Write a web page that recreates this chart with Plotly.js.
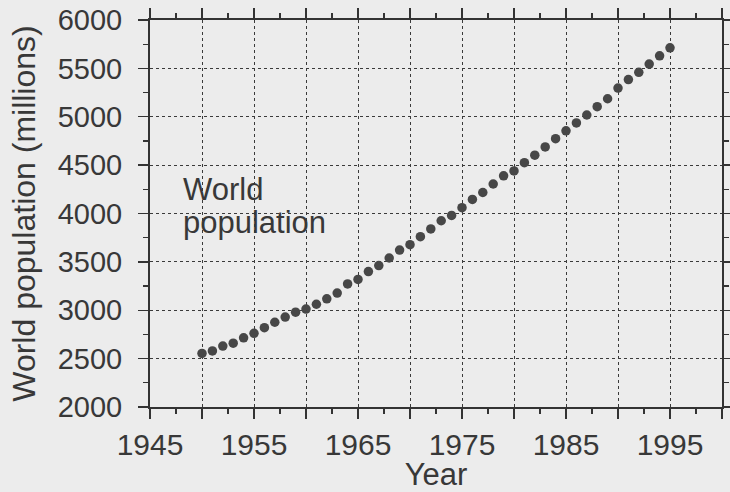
<!DOCTYPE html>
<html>
<head>
<meta charset="utf-8">
<script src="https://cdn.plot.ly/plotly-3.0.1.min.js"></script>
<style>
  html, body { margin: 0; padding: 0; background: #ececec; }
  #chart { width: 730px; height: 492px; }
</style>
</head>
<body>
<div id="chart"></div>
<script>
// ---- data ----
const years = [1950,1951,1952,1953,1954,1955,1956,1957,1958,1959,
               1960,1961,1962,1963,1964,1965,1966,1967,1968,1969,
               1970,1971,1972,1973,1974,1975,1976,1977,1978,1979,
               1980,1981,1982,1983,1984,1985,1986,1987,1988,1989,
               1990,1991,1992,1993,1994,1995];
const population = [2554,2580,2630,2660,2715,2762,2820,2876,2930,2980,
                    3012,3062,3118,3178,3272,3318,3400,3462,3540,3622,
                    3678,3760,3840,3925,3980,4060,4145,4217,4305,4390,
                    4440,4525,4603,4688,4773,4855,4936,5018,5104,5186,
                    5296,5384,5459,5544,5630,5712];
const xTickVals = [1945,1950,1955,1960,1965,1970,1975,1980,1985,1990,1995,2000];
const xTickText = ['1945','','1955','','1965','','1975','','1985','','1995',''];
const yTickVals = [2000,2500,3000,3500,4000,4500,5000,5500,6000];
const yTickText = ['2000','2500','3000','3500','4000','4500','5000','5500','6000'];
const seriesLabel = ['World', 'population'];
const xTitle = 'Year';
const yTitle = 'World population (millions)';

const FONT = 'Liberation Sans, Arial, Helvetica, sans-serif';
const INK = '#383838';

const trace = {
  x: years,
  y: population,
  type: 'scatter',
  mode: 'markers',
  marker: { symbol: 'circle', size: 9.5, color: '#474747' },
  hoverinfo: 'x+y',
  showlegend: false
};

const axisCommon = {
  showline: true,
  linecolor: '#333',
  linewidth: 2,
  mirror: 'ticks',
  ticks: 'outside',
  ticklen: 10,
  tickwidth: 1.3,
  tickcolor: '#333',
  showgrid: true,
  gridcolor: '#3a3a3a',
  gridwidth: 1,
  griddash: 'dot',
  zeroline: false
};

const layout = {
  width: 730,
  height: 492,
  margin: { l: 150, r: 8, t: 20, b: 85 },
  paper_bgcolor: '#ececec',
  plot_bgcolor: '#ececec',
  font: { family: FONT, color: INK },
  xaxis: Object.assign({}, axisCommon, {
    range: [1945, 2000],
    tickmode: 'array',
    tickvals: xTickVals,
    ticktext: xTickText,
    tickfont: { family: FONT, size: 30, color: INK },
    minor: { tick0: 1945, dtick: 2.5, ticks: 'outside', ticklen: 5, tickwidth: 1.3, tickcolor: '#333', showgrid: false },
    title: { text: xTitle, font: { family: FONT, size: 31, color: INK }, standoff: 5 }
  }),
  yaxis: Object.assign({}, axisCommon, {
    range: [2000, 6000],
    tickmode: 'array',
    tickvals: yTickVals,
    ticktext: yTickText,
    tickfont: { family: FONT, size: 29, color: INK },
    ticklabelstandoff: 10,
    minor: { tick0: 2000, dtick: 250, ticks: 'outside', ticklen: 5, tickwidth: 1.3, tickcolor: '#333', showgrid: false },
    title: { text: yTitle, font: { family: FONT, size: 32, color: INK }, standoff: 12 }
  }),
  annotations: [
    { x: 1948, y: 4250, xref: 'x', yref: 'y', text: seriesLabel[0], showarrow: false,
      xanchor: 'left', yanchor: 'middle', font: { family: FONT, size: 31, color: INK } },
    { x: 1948, y: 3910, xref: 'x', yref: 'y', text: seriesLabel[1], showarrow: false,
      xanchor: 'left', yanchor: 'middle', font: { family: FONT, size: 31, color: INK } }
  ]
};

Plotly.newPlot('chart', [trace], layout, { displayModeBar: false, staticPlot: true });
</script>
</body>
</html>
